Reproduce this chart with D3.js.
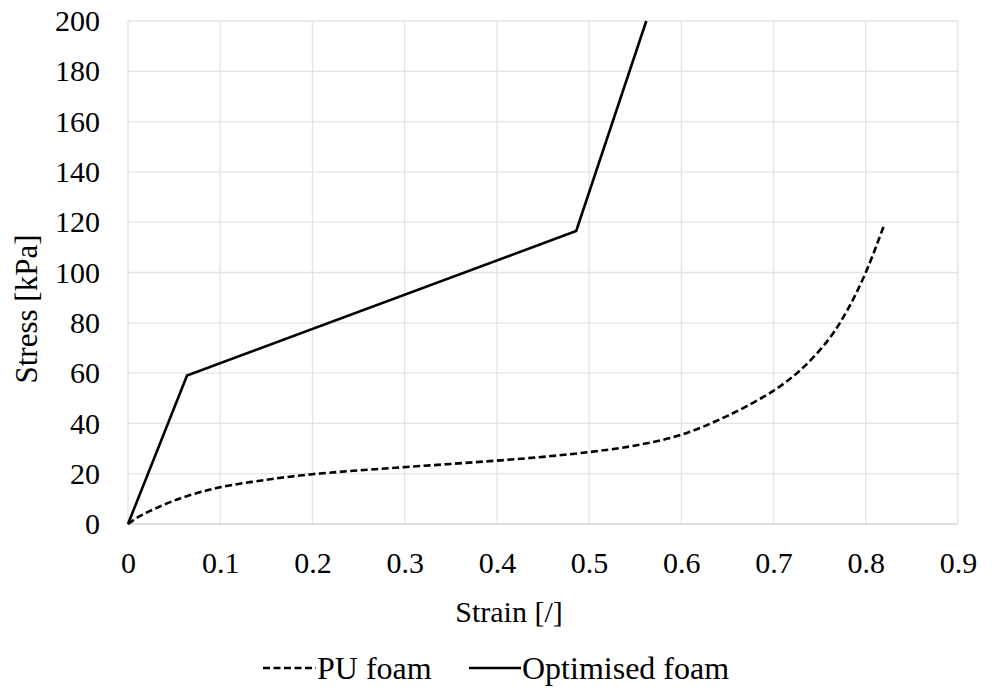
<!DOCTYPE html>
<html>
<head>
<meta charset="utf-8">
<script src="https://cdn.jsdelivr.net/npm/d3@7"></script>
</head>
<body style="margin:0">
<div id="chart"></div>
<script>
// PU foam (dashed curve)
var puStrain = [0, 0.01, 0.02, 0.03, 0.05, 0.075, 0.1, 0.15, 0.2, 0.25, 0.3, 0.35, 0.4, 0.45, 0.5, 0.55, 0.6, 0.65, 0.7, 0.73, 0.76, 0.78, 0.8, 0.82];
var puStress = [0, 2.5, 4.5, 6.2, 9.3, 12.3, 14.6, 17.6, 19.8, 21.3, 22.6, 23.9, 25.2, 26.7, 28.6, 31.2, 35.5, 43, 53, 61.5, 73.5, 85, 100, 119];
// optimised foam (solid piecewise line)
var optStrain = [0, 0.064, 0.486, 0.562];
var optStress = [0, 59, 116.5, 200];

var xTicks = [0, 0.1, 0.2, 0.3, 0.4, 0.5, 0.6, 0.7, 0.8, 0.9];
var yTicks = [0, 20, 40, 60, 80, 100, 120, 140, 160, 180, 200];
var seriesNames = ["PU foam", "Optimised foam"];

var serif = "'Liberation Serif', monospace";

var svg = d3.select("#chart").append("svg").attr("width", 992).attr("height", 693),
    margin = {top: 21, right: 34, bottom: 169, left: 128},
    width = +svg.attr("width") - margin.left - margin.right,
    height = +svg.attr("height") - margin.top - margin.bottom;

var x = d3.scaleLinear().domain([0, 0.9]).range([0, width]);
var y = d3.scaleLinear().domain([0, 200]).range([height, 0]);

var g = svg.append("g").attr("transform", "translate(" + margin.left + "," + margin.top + ")");

// grid
g.selectAll(".vgrid").data(xTicks).enter().append("line")
  .attr("x1", function(d) { return x(d); }).attr("x2", function(d) { return x(d); })
  .attr("y1", 0).attr("y2", height)
  .attr("stroke", "#e4e4e4").attr("stroke-width", 1.3);
g.selectAll(".hgrid").data(yTicks).enter().append("line")
  .attr("x1", 0).attr("x2", width)
  .attr("y1", function(d) { return y(d); }).attr("y2", function(d) { return y(d); })
  .attr("stroke", function(d) { return d === 0 ? "#d6d6d6" : "#e4e4e4"; })
  .attr("stroke-width", 1.3);

// axes (labels only)
var xAxis = g.append("g").attr("transform", "translate(0," + height + ")")
  .call(d3.axisBottom(x).tickValues(xTicks).tickSize(0).tickPadding(28).tickFormat(function(d) { return d3.format("")(d); }));
var yAxis = g.append("g")
  .call(d3.axisLeft(y).tickValues(yTicks).tickSize(0).tickPadding(28));
[xAxis, yAxis].forEach(function(a) {
  a.attr("font-size", null).attr("font-family", null);
  a.select(".domain").remove();
  a.selectAll("text").attr("fill", "#000").attr("font-size", 30);
});

g.append("text").attr("x", 381).attr("y", 601)
  .attr("text-anchor", "middle").attr("font-size", 30).text("Strain [/]");
g.append("text").attr("transform", "rotate(-90)")
  .attr("x", -288).attr("y", -91)
  .attr("text-anchor", "middle").attr("font-size", 31).text("Stress [kPa]");

var line = d3.line().x(function(d) { return x(d[0]); }).y(function(d) { return y(d[1]); });
var puLine = d3.line().curve(d3.curveCatmullRom.alpha(0.5)).x(function(d) { return x(d[0]); }).y(function(d) { return y(d[1]); });

g.append("path").datum(d3.zip(puStrain, puStress))
  .attr("fill", "none").attr("stroke", "#000").attr("stroke-width", 2.6)
  .attr("stroke-dasharray", "7,3.5").attr("d", puLine);
g.append("path").datum(d3.zip(optStrain, optStress))
  .attr("fill", "none").attr("stroke", "#000").attr("stroke-width", 2.6)
  .attr("stroke-linejoin", "miter").attr("d", line);

// legend
var leg = svg.append("g").attr("transform", "translate(0,668)");
leg.append("line").attr("x1", 263).attr("x2", 316).attr("y1", 0).attr("y2", 0)
  .attr("stroke", "#000").attr("stroke-width", 2.4).attr("stroke-dasharray", "7,3.5");
leg.append("text").attr("x", 317).attr("y", 11).attr("font-size", 32).text(seriesNames[0]);
leg.append("line").attr("x1", 469).attr("x2", 521).attr("y1", 0).attr("y2", 0)
  .attr("stroke", "#000").attr("stroke-width", 2.4);
leg.append("text").attr("x", 522).attr("y", 11).attr("font-size", 32).text(seriesNames[1]);

svg.selectAll("text").style("font-family", serif);
</script>
</body>
</html>
